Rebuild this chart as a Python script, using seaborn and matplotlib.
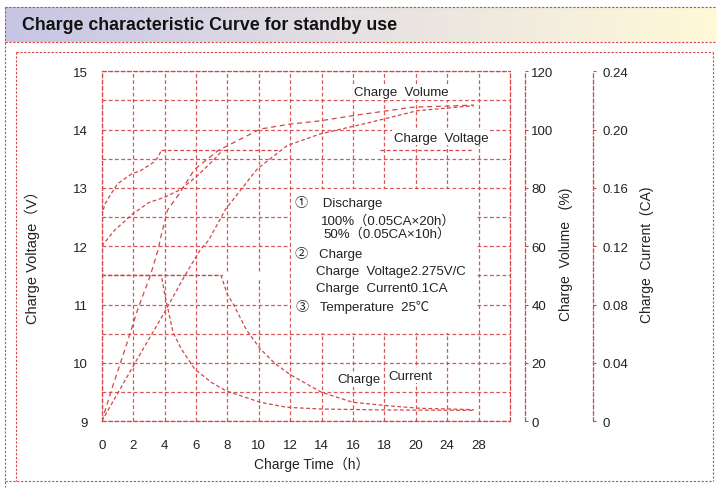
import numpy as np
import matplotlib.pyplot as plt
import matplotlib.patches as mpatches
from matplotlib.lines import Line2D
from matplotlib.colors import LinearSegmentedColormap
import seaborn as sns

# Axe du temps : pas de 2 par case, les deux derniers libellés sautent à 24 et 28
time_ticks = list(range(0, 26, 2))
time_labels = ["0", "2", "4", "6", "8", "10", "12", "14", "16", "18", "20", "24", "28"]

volt_ticks = [9, 10, 11, 12, 13, 14, 15]
vol_ticks = [0, 20, 40, 60, 80, 100, 120]
cur_ticks = [0, 0.04, 0.08, 0.12, 0.16, 0.20, 0.24]
cur_labels = ["0", "0.04", "0.08", "0.12", "0.16", "0.20", "0.24"]

# Tension de charge (V) : décharge 50% et 100%, puis palier 13.65 V
v50_t = [0, 0.2, 0.6, 1.0, 1.9, 2.5, 3.3, 3.6, 3.8]
v50_v = [12.52, 12.72, 12.9, 13.07, 13.24, 13.3, 13.44, 13.53, 13.65]
v100_t = [0, 0.8, 2.0, 3.0, 4.0, 5.0, 6.1, 7.2, 7.7]
v100_v = [12.0, 12.27, 12.56, 12.75, 12.84, 12.97, 13.21, 13.5, 13.65]
cv1_t = [3.8, 11.2]
cv1_v = [13.65, 13.65]
cv2_t = [17.7, 23.6]
cv2_v = [13.65, 13.65]

# Volume de charge (%)
q50_t = [0, 0.7, 1.5, 2.3, 3.1, 3.6, 3.8, 4.2, 4.9, 5.9, 7.4, 10.1, 12.0, 13.9, 16.0, 19.8, 23.7]
q50_v = [0, 12, 25, 38.5, 50, 59, 64, 72.5, 77.7, 86.3, 92.8, 100.2, 101.9, 103, 104.8, 107.7, 108.4]
q100_t = [0, 2.1, 4.0, 5.3, 6.3, 6.8, 7.9, 8.4, 9.9, 11.8, 13.9, 17.1, 20.1, 23.7]
q100_v = [0, 19.8, 37.4, 50, 59, 62, 72.8, 76.2, 86.5, 94.5, 98.5, 102.5, 106.5, 108.2]

# Courant de charge (CA)
i100_t = [0, 7.6, 8.0, 8.4, 9.2, 10.1, 11.0, 12.0, 14.0, 16.0, 18.2, 20.3, 23.7]
i100_v = [0.1, 0.1, 0.087, 0.08, 0.063, 0.0496, 0.04, 0.032, 0.0199, 0.013, 0.0107, 0.0089, 0.008]
i50_t = [0, 3.8, 4.0, 4.22, 4.54, 5.07, 5.92, 6.98, 7.9, 10.1, 11.8, 14.0, 18.0, 23.7]
i50_v = [0.1, 0.1, 0.088, 0.077, 0.061, 0.0496, 0.0359, 0.0267, 0.021, 0.013, 0.0096, 0.0084, 0.0078, 0.0075]

sns.set_theme(style="white")
plt.rcParams['font.family'] = ['Liberation Sans', 'Noto Sans CJK SC', 'DejaVu Sans']

RED = '#d64545'
TXT = '#222222'
DASH = (0, (3, 2))
W, H = 717, 489

fig = plt.figure(figsize=(W / 100, H / 100), dpi=100)

def fx(x): return x / W
def fy(y): return 1 - y / H

# Bandeau du titre en dégradé
tax = fig.add_axes([fx(5), fy(43), fx(712), 35 / H])
cmap = LinearSegmentedColormap.from_list("bar", ['#c6c5e4', '#e6e1e3', '#fff9d8'])
tax.imshow(np.linspace(0, 1, 256).reshape(1, -1), aspect='auto', cmap=cmap, extent=[0, 1, 0, 1])
tax.set_axis_off()
tax.text(0.024, 0.5, "Charge characteristic Curve for standby use", transform=tax.transAxes,
         ha='left', va='center', fontsize=12.8, fontweight='bold', color='#111111')

# Cadres pointillés
def fline(x0, y0, x1, y1):
    fig.add_artist(Line2D([fx(x0), fx(x1)], [fy(y0), fy(y1)], transform=fig.transFigure,
                          color=RED, lw=0.8, linestyle=(0, (2, 1.5))))

fline(5, 8, 717, 8)
fline(5, 43, 717, 43)
fline(5, 8, 5, 488)
fline(16, 53, 713, 53)
fline(16, 53, 16, 482)
fline(713, 53, 713, 482)
fline(5, 482, 713, 482)

# Axes principaux (tension)
left, right, top, bottom = 101.7, 510, 72.3, 422.3
ax = fig.add_axes([fx(left), fy(bottom), (right - left) / W, (bottom - top) / H])
ax.set_xlim(0, 26)
ax.set_ylim(9, 15)
ax.set_axisbelow(True)

ax.set_xticks(time_ticks)
ax.set_xticklabels(time_labels)
ax.set_yticks(np.arange(9, 15.01, 0.5))
ax.set_yticklabels([str(int(v)) if v in volt_ticks else "" for v in np.arange(9, 15.01, 0.5)])
ax.tick_params(axis='both', length=0, labelsize=9.5, labelcolor=TXT)
ax.tick_params(axis='x', pad=13)
ax.tick_params(axis='y', pad=10)
ax.grid(True, color=RED, lw=0.9, linestyle=DASH, alpha=0.9)
for s in ax.spines.values():
    s.set_color(RED)
    s.set_linestyle(DASH)
    s.set_linewidth(0.9)

ax.set_xlabel("Charge Time（h）", fontsize=10, color=TXT)
ax.xaxis.set_label_coords(0.515, -0.10)
ax.set_ylabel("Charge Voltage（V）", fontsize=10.5, color=TXT)
ax.yaxis.set_label_coords(-0.152, 0.48)

# Cadre blanc des conditions d'essai, et trou de la grille à 11.5 V
ax.add_patch(mpatches.Rectangle((12.08, 10.52), 11.84, 2.46, facecolor='white',
                                edgecolor='none', zorder=1))
ax.add_patch(mpatches.Rectangle((7.75, 11.46), 4.2, 0.08, facecolor='white',
                                edgecolor='none', zorder=1))

line_kw = dict(color=RED, lw=0.9, linestyle=DASH, legend=False)
sns.lineplot(x=v50_t, y=v50_v, ax=ax, **line_kw)
sns.lineplot(x=v100_t, y=v100_v, ax=ax, **line_kw)
sns.lineplot(x=cv1_t, y=cv1_v, ax=ax, **line_kw)
sns.lineplot(x=cv2_t, y=cv2_v, ax=ax, **line_kw)

# Axe volume de charge
ax2 = ax.twinx()
ax2.set_ylim(0, 120)
ax2.set_yticks(vol_ticks)
ax2.set_yticklabels([str(v) for v in vol_ticks], ha='center')
ax2.tick_params(axis='y', length=2.5, width=0.8, color=RED, pad=2, labelsize=9.5, labelcolor=TXT)
for k, s in ax2.spines.items():
    s.set_visible(k == 'right')
ax2.spines['right'].set_position(('axes', 1.0367))
ax2.spines['right'].set_color(RED)
ax2.spines['right'].set_linestyle(DASH)
ax2.spines['right'].set_linewidth(0.9)
ax2.grid(False)
ax2.set_ylabel("Charge  Volume   (%)", fontsize=10, color=TXT)
ax2.yaxis.set_label_coords(1.12, 0.48)
sns.lineplot(x=q50_t, y=q50_v, ax=ax2, color=RED, lw=0.9, linestyle=(0, (4, 3)), legend=False)
sns.lineplot(x=q100_t, y=q100_v, ax=ax2, **line_kw)

# Axe courant de charge
ax3 = ax.twinx()
ax3.set_ylim(0, 0.24)
ax3.set_yticks(cur_ticks)
ax3.set_yticklabels(cur_labels, ha='center')
ax3.tick_params(axis='y', length=2.5, width=0.8, color=RED, pad=4.5, labelsize=9.5, labelcolor=TXT)
for k, s in ax3.spines.items():
    s.set_visible(k == 'right')
ax3.spines['right'].set_position(('axes', 1.2025))
ax3.spines['right'].set_color(RED)
ax3.spines['right'].set_linestyle(DASH)
ax3.spines['right'].set_linewidth(0.9)
ax3.grid(False)
ax3.set_ylabel("Charge  Current  (CA)", fontsize=10, color=TXT)
ax3.yaxis.set_label_coords(1.318, 0.48)
sns.lineplot(x=i100_t, y=i100_v, ax=ax3, **line_kw)
sns.lineplot(x=i50_t, y=i50_v, ax=ax3, **line_kw)

# Libellés des courbes
wb = dict(facecolor='white', edgecolor='none', pad=1)
for x, y, s in [(19.1, 14.64, "Charge  Volume"), (21.6, 13.86, "Charge  Voltage"),
                (16.4, 9.72, "Charge"), (19.67, 9.78, "Current")]:
    ax3.text(x, y, s, transform=ax.transData, ha='center', va='center',
             fontsize=9.5, color=TXT, bbox=wb, zorder=5)

notes = [
    (12.32, 12.76, "①    Discharge"),
    (13.97, 12.45, "100%（0.05CA×20h）"),
    (14.10, 12.22, "50%（0.05CA×10h）"),
    (12.32, 11.88, "②   Charge"),
    (13.65, 11.585, "Charge  Voltage2.275V/C"),
    (13.65, 11.29, "Charge  Current0.1CA"),
    (12.38, 10.985, "③   Temperature  25℃"),
]
for x, y, s in notes:
    ax.text(x, y, s, ha='left', va='center', fontsize=9.5, color=TXT, zorder=3)

fig.savefig("out.png", dpi=100)
